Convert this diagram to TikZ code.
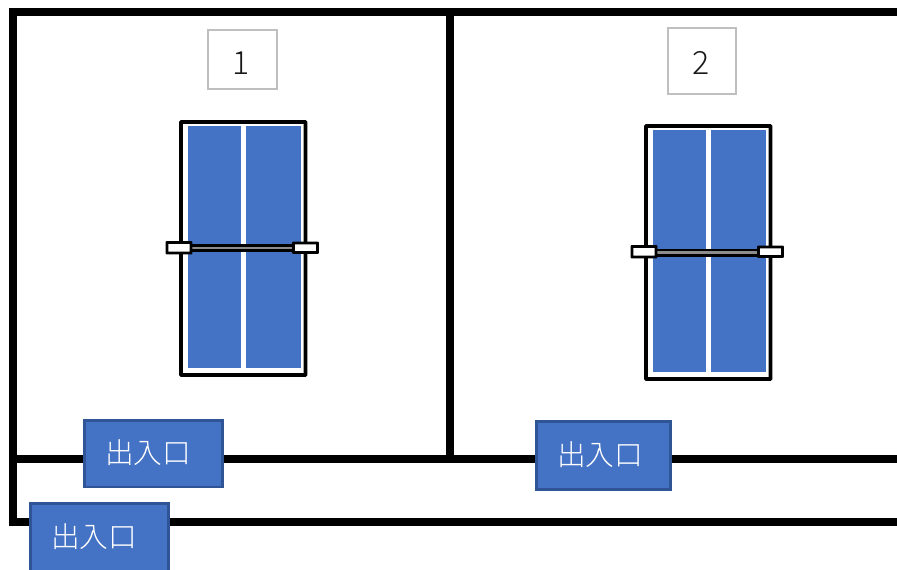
\documentclass[tikz,border=0pt]{standalone}
\usepackage{fontspec}
\newfontfamily\cjk{Noto Sans CJK JP Light}
\definecolor{doorblue}{HTML}{4472C4}
\definecolor{doorline}{HTML}{2F5597}
\definecolor{labelgray}{HTML}{BFBFBF}
\definecolor{netgray}{HTML}{8C8C8C}
\tikzset{
  wall/.style={line width=6pt,black,line cap=butt,line join=miter},
  doorbox/.style={draw=doorline,line width=2.2pt,fill=doorblue,inner sep=0pt},
  doortext/.style={font=\cjk\fontsize{21.5}{21.5}\selectfont,text=white,inner sep=0pt},
  labelbox/.style={draw=labelgray,line width=1.5pt,fill=white,inner sep=0pt},
  labeltext/.style={font=\cjk\fontsize{24}{24}\selectfont,text=black!90,inner sep=0pt},
  tableframe/.style={draw=black,line width=2.8pt,fill=white,rounded corners=0.4pt},
  halfcourt/.style={fill=doorblue,draw=none},
  post/.style={draw=black,line width=2.2pt,fill=white,rounded corners=0.2pt},
}
\begin{document}
\begin{tikzpicture}[x=0.75pt,y=-0.75pt]
\useasboundingbox (0,0) rectangle (897,569);
% walls
\draw[wall] (897,12) -- (13,12) -- (13,522) -- (897,522);
\draw[wall] (13,459) -- (897,459);
\draw[wall] (450,12) -- (450,459);
% door boxes
\node[doorbox,minimum width=103.6pt,minimum height=50.2pt,anchor=north west] (door1) at (82.8,418.6) {};
\node[doortext] (t1) at (148,452.5) {出入口};
\node[doorbox,minimum width=100.6pt,minimum height=51pt,anchor=north west] (door2) at (534.8,420) {};
\node[doortext] (t2) at (600,455) {出入口};
\begin{scope}
\clip (0,0) rectangle (897,569);
\node[doorbox,minimum width=103.6pt,minimum height=60pt,anchor=north west] (door3) at (28.8,502) {};
\end{scope}
\node[doortext] (t3) at (94,536.5) {出入口};
% labels
\node[labelbox,minimum width=52pt,minimum height=44.5pt] (lab1) at (242.5,59.5) {};
\node[labeltext] (n1) at (241,63) {1};
\node[labelbox,minimum width=51pt,minimum height=49.5pt] (lab2) at (701.5,60.5) {};
\node[labeltext] (n2) at (701,62.5) {2};
% table 1
\draw[tableframe] (181,122) rectangle (305.5,375) ;
\fill[halfcourt] (187.7,126) rectangle (240.5,368);
\fill[halfcourt] (245.5,126) rectangle (301,368);
\draw[black,line width=6pt] (190,248) -- (294,248);
\draw[netgray,line width=2pt] (190,248) -- (294,248);
\draw[post] (167,242.5) rectangle (191,253);
\draw[post] (293.5,243) rectangle (317.5,252.5);
% table 2
\draw[tableframe] (646,126) rectangle (770.5,379);
\fill[halfcourt] (652.7,130) rectangle (705.5,372);
\fill[halfcourt] (710.5,130) rectangle (766,372);
\draw[black,line width=6pt] (655,252.5) -- (759,252.5);
\draw[netgray,line width=2pt] (655,252.5) -- (759,252.5);
\draw[post] (632,246.5) rectangle (656,257);
\draw[post] (758.5,247) rectangle (782.5,256.5);
\end{tikzpicture}
\end{document}
